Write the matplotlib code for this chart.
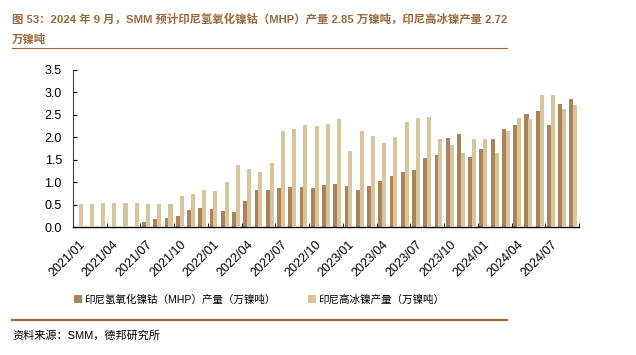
import numpy as np
import matplotlib.pyplot as plt
from matplotlib.lines import Line2D

plt.rcParams['font.family'] = ['Liberation Sans', 'Noto Sans CJK SC', 'DejaVu Sans']

# months 2021/01 .. 2024/09
months = [f"{y}/{m:02d}" for y in range(2021, 2025) for m in range(1, 13)][:45]

mhp = [0, 0, 0, 0, 0, 0, 0.12, 0.17, 0.19, 0.24, 0.38, 0.42, 0.41, 0.36, 0.33,
       0.59, 0.82, 0.82, 0.87, 0.89, 0.89, 0.87, 0.93, 0.95, 0.91, 0.83, 0.92,
       1.03, 1.13, 1.22, 1.27, 1.53, 1.61, 1.99, 2.07, 1.57, 1.75, 1.96, 2.19,
       2.27, 2.53, 2.58, 2.27, 2.75, 2.85]
matte = [0.52, 0.52, 0.53, 0.53, 0.53, 0.53, 0.52, 0.51, 0.51, 0.68, 0.73, 0.83,
         0.81, 1.00, 1.39, 1.30, 1.22, 1.42, 2.13, 2.18, 2.27, 2.25, 2.30, 2.41,
         1.70, 2.13, 2.02, 1.88, 2.00, 2.33, 2.43, 2.45, 1.96, 1.82, 1.66, 1.96,
         1.96, 1.64, 2.13, 2.43, 2.40, 2.94, 2.94, 2.62, 2.72]

name_mhp = '印尼氢氧化镍钴（MHP）产量（万镍吨）'
name_matte = '印尼高冰镍产量（万镍吨）'
title1 = '图 53：2024 年 9 月，SMM 预计印尼氢氧化镍钴（MHP）产量 2.85 万镍吨，印尼高冰镍产量 2.72'
title2 = '万镍吨'
source = '资料来源：SMM，德邦研究所'

c_mhp = '#A9835A'
c_matte = '#D8C59D'
c_title = '#9A6A3C'

fig = plt.figure(figsize=(6.36, 3.55), dpi=100)
ax = fig.add_axes([73/636, 1-227/355, (579-73)/636, (227-70)/355])

x = np.arange(len(months))
ax.bar(x - 0.17, mhp, width=0.36, color=c_mhp, label=name_mhp, zorder=2)
ax.bar(x + 0.17, matte, width=0.36, color=c_matte, label=name_matte, zorder=3)

ax.set_xlim(-0.5, len(months) - 0.5)
ax.set_ylim(0, 3.5)
ax.set_yticks(np.arange(0, 3.51, 0.5))
ax.set_yticklabels([f"{v:.1f}" for v in np.arange(0, 3.51, 0.5)])
ax.tick_params(axis='y', direction='in', length=3, labelsize=9, pad=8)

ax.set_xticks(x[::3])
ax.set_xticklabels(months[::3], rotation=45, ha='right', rotation_mode='anchor', fontsize=9)
ax.tick_params(axis='x', which='major', length=0, pad=8)
ax.set_xticks(np.arange(-0.5, len(months), 3), minor=True)
ax.tick_params(axis='x', which='minor', direction='in', length=3)

for s in ['top', 'right']:
    ax.spines[s].set_visible(False)
ax.spines['left'].set_color('#404040')
ax.spines['left'].set_linewidth(0.8)
ax.spines['bottom'].set_linewidth(1.0)

ax.legend(loc='upper center', bbox_to_anchor=(0.368, -0.37), ncol=2, frameon=False,
          fontsize=7.6, handlelength=0.75, handleheight=0.75, handletextpad=0.25,
          columnspacing=3.0)

fig.text(12/636, 1-19/355, title1, fontsize=8.2, fontweight='bold', color=c_title, va='center')
fig.text(12/636, 1-39/355, title2, fontsize=8.2, fontweight='bold', color=c_title, va='center')
fig.add_artist(Line2D([12/636, 507/636], [1-48/355, 1-48/355], color=c_title, lw=0.8))
fig.add_artist(Line2D([12/636, 507/636], [1-320/355, 1-320/355], color=c_title, lw=1.6))
fig.text(12/636, 1-335/355, source, fontsize=8, va='center')

fig.savefig('out.png', dpi=100)
